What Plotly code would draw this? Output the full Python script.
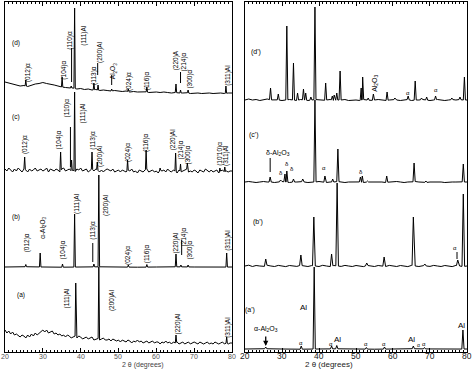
import numpy as np
import plotly.graph_objects as go

# ---------------- data (2-theta in degrees, stacked intensity in a.u.) ----------------
tick_vals = [20, 30, 40, 50, 60, 70, 80]
tick_text = ["20", "30", "40", "50", "60", "70", "80"]

# ---- left panel: (a)..(d) ----
d_base = [270, 269, 268.5, 267, 266, 266.5, 265.5, 267, 268, 268.5, 269.5, 268.5, 268, 267, 266, 265, 264.5, 264, 264, 263,
          263.5, 262.5, 263, 262, 262.5, 261.5, 262, 261.5, 261, 261.5, 261, 260.5, 261, 260, 260.5, 260, 260, 260.5, 259.5, 260,
          260, 259.5, 260, 259.5, 259, 259.5, 259, 259, 259.5, 258.5, 259, 259, 258.5, 259, 259, 258.5, 259, 259, 258.5, 259, 259]
d_pk_x = [25.5, 35.1, 37.5, 38.4, 43.5, 44.6, 48.2, 52.6, 57.5, 65.2, 66.4, 68.4, 78.4]
d_pk_y = [272, 275, 266, 344, 269, 267, 263, 263, 265, 268, 262, 262, 266]

c_base = [183, 181, 184, 182, 180, 183, 181, 184, 182, 180, 183, 182, 180, 183, 181, 182, 184, 181, 182, 183,
          181, 182, 184, 180, 183, 182, 181, 183, 182, 180, 183, 184, 181, 182, 183, 181, 182, 180, 183, 182,
          184, 181, 182, 183, 180, 182, 183, 181, 183, 182, 180, 182, 180, 182, 183, 182, 181, 183, 180, 181,
          182, 180, 182, 181, 180, 182, 181, 183, 180, 181, 179, 182, 181, 180, 182, 183, 180, 181, 182, 180,
          181, 179, 182, 181, 182, 180, 183, 181, 180, 182, 181, 179, 182, 180, 181, 182, 183, 180, 181, 180,
          182, 181, 179, 182, 181, 180, 183, 181, 180, 182, 180, 181, 182, 179, 181, 182, 180, 181, 180, 181, 181]
c_pk_x = [25.2, 34.7, 37.6, 38.4, 43.0, 44.4, 52.4, 57.3, 61.0, 65.1, 66.4, 68.2, 76.8, 78.1]
c_pk_y = [195, 200, 192, 260, 200, 190, 192, 202, 184, 199, 188, 189, 184, 185]

b_base = [85, 85.3, 85, 84.8, 85, 85.2, 85, 84.8, 85, 85.2, 85, 84.8, 85]
b_pk_x = [25.5, 29.3, 35.2, 38.4, 43.5, 44.8, 52.6, 57.5, 65.2, 66.5, 68.4, 78.6]
b_pk_y = [87.5, 99, 88, 138, 88, 177, 87, 87.5, 98, 87, 87, 99]

a_base = [22, 19, 21, 18, 20, 17, 18, 16, 15, 17, 16, 14, 17, 15, 18, 16, 19, 17, 19, 21,
          22, 20, 22, 19, 20, 21, 18, 19, 17, 18, 16, 17, 15, 17, 16, 14, 15, 16, 14, 16,
          15, 13, 14, 15, 13, 14, 15, 12, 13, 14, 12, 13, 14, 12, 12, 13, 11, 13, 12, 11,
          12, 10, 12, 11, 10, 12, 11, 9, 11, 10, 12, 10, 11, 9, 10, 11, 9, 10, 11, 9,
          10, 10, 8, 10, 9, 11, 9, 10, 8, 10, 9, 10, 8, 9, 10, 8, 9, 10, 8, 9,
          10, 9, 8, 10, 9, 8, 9, 10, 8, 9, 8, 10, 9, 8, 9, 10, 8, 9, 8, 9, 9]
a_pk_x = [38.7, 44.8, 65.2, 78.6]
a_pk_y = [69, 85, 17, 15]

# ---- right panel: (a')..(d') ----
dp_base = [252, 253, 252, 252.5, 251.5, 252, 253, 252, 252.5, 252, 251.5, 252, 252.5, 252, 251.5, 252.5, 252, 251.5, 252, 252.5,
           252, 251.5, 252, 252.5, 251.5, 252, 252, 252.5, 251.5, 252, 252, 251.5, 252.5, 252, 251.5, 252, 252.5, 252, 251.5, 252,
           252.5, 252, 251.5, 252, 252.5, 251.5, 252, 252, 252.5, 252, 251.5, 252, 252.5, 252, 251.5, 252, 252.5, 252, 252.5, 252, 252]
dp_pk_x = [26.9, 29.0, 31.3, 33.1, 34.2, 35.8, 36.4, 37.8, 38.9, 41.8, 43.6, 44.1, 44.8, 45.7, 51.4, 51.8, 53.3, 54.7,
           58.4, 60.5, 64.1, 66.0, 67.7, 69.1, 71.5, 75.9, 78.1, 79.3]
dp_pk_y = [264, 258, 326, 289, 259, 263, 259, 255, 345, 269, 256, 257, 259, 281, 264, 275, 254, 258,
           260, 254, 256, 271, 254, 255, 256, 254, 255, 275]

cp_base = [170, 170.5, 170, 169.5, 170, 170.5, 170, 170, 169.5, 170, 170.5, 170, 169.5, 170, 170, 170.5, 170, 169.5, 170, 170,
           170.5, 170, 169.5, 170, 170, 170.5, 170, 169.5, 170, 170, 170.5, 170, 169.5, 170, 170, 170, 170.5, 170, 169.5, 170,
           170, 170.5, 170, 169.5, 170, 170, 170.5, 170, 170, 169.5, 170, 170, 170.5, 170, 169.5, 170, 170, 170, 170.5, 170, 170]
cp_pk_x = [26.8, 29.6, 30.8, 31.3, 33.1, 35.6, 38.9, 41.6, 43.7, 45.1, 51.2, 51.7, 53.1, 58.3, 65.7, 68.9, 79.0]
cp_pk_y = [175, 172, 178, 181, 173, 173, 252, 176, 173, 203, 175, 176, 171, 176, 189, 171, 188]

bp_base = [86, 86.8, 85.5, 86.5, 86, 85.3, 86.7, 86, 85.5, 86.6, 86, 85.4, 86.5, 86, 85.6, 86.7, 86, 85.5, 86.4, 86,
           85.5, 86.7, 86, 85.4, 86.5, 86, 85.6, 86.6, 86, 85.5, 86.5, 86, 85.4, 86.6, 86, 85.5, 86.5, 86, 85.5, 86.6,
           86, 85.5, 86.5, 86, 85.4, 86.6, 86, 85.5, 86.5, 86, 85.6, 86.6, 86, 85.5, 86.5, 86, 85.4, 86.6, 86, 85.5, 86]
bp_pk_x = [25.6, 35.1, 38.6, 43.4, 44.9, 52.9, 57.6, 65.5, 68.6, 77.5, 79.0]
bp_pk_y = [93, 97, 135, 98, 169, 89, 95, 135, 88, 92, 158]

ap_base = [3, 3.3, 3, 2.8, 3, 3.2, 3, 2.8, 3, 3.3, 3, 2.8, 3]
ap_pk_x = [25.6, 35.2, 38.7, 43.4, 44.8, 52.8, 57.7, 65.5, 68.5, 78.9]
ap_pk_y = [5, 6, 85, 6, 6.5, 4.5, 5, 6, 4.5, 22]


# ---------------- helpers ----------------
def pattern(base, pk_x, pk_y, w):
    bx = np.linspace(20, 80, len(base))
    by = np.array(base, dtype=float)
    pts = []
    for x, y in zip(bx, by):
        if all(abs(x - p) > w for p in pk_x):
            pts.append((x, y))
    for p, h in zip(pk_x, pk_y):
        pts.append((p - w, float(np.interp(p - w, bx, by))))
        pts.append((p, h))
        pts.append((p + w, float(np.interp(p + w, bx, by))))
    pts.sort(key=lambda t: t[0])
    return [t[0] for t in pts], [t[1] for t in pts]


fig = go.Figure()
left = [(d_base, d_pk_x, d_pk_y, 0.18), (c_base, c_pk_x, c_pk_y, 0.18),
        (b_base, b_pk_x, b_pk_y, 0.2), (a_base, a_pk_x, a_pk_y, 0.18)]
right = [(dp_base, dp_pk_x, dp_pk_y, 0.28), (cp_base, cp_pk_x, cp_pk_y, 0.3),
         (bp_base, bp_pk_x, bp_pk_y, 0.35), (ap_base, ap_pk_x, ap_pk_y, 0.3)]
for base, px, py, w in left:
    x, y = pattern(base, px, py, w)
    fig.add_trace(go.Scatter(x=x, y=y, mode="lines", line=dict(color="black", width=1),
                             xaxis="x", yaxis="y", showlegend=False, hoverinfo="skip"))
for base, px, py, w in right:
    x, y = pattern(base, px, py, w)
    fig.add_trace(go.Scatter(x=x, y=y, mode="lines", line=dict(color="black", width=1),
                             xaxis="x2", yaxis="y2", showlegend=False, hoverinfo="skip"))

# ---------------- labels ----------------
A = "α"
left_vlabels = [  # (text, 2theta, level) rotated
    ("(012)" + A, 26.1, 279), ("(104)" + A, 35.5, 282), ("(110)" + A, 37.1, 312), ("(111)Al", 40.8, 317),
    ("(113)" + A, 43.5, 277), ("(200)Al", 45.1, 300), ("Al<sub>2</sub>O<sub>3</sub>", 48.6, 281),
    ("(024)" + A, 52.8, 270), ("(116)" + A, 57.6, 271), ("(220)A", 65.3, 292), ("(214)" + A, 67.2, 290),
    ("(300)" + A, 68.8, 273), ("(311)Al", 78.9, 277),
    ("(012)" + A, 25.3, 207), ("(104)" + A, 34.4, 212), ("(110)" + A, 36.5, 244), ("(111)Al", 40.5, 239),
    ("(113)" + A, 43.2, 212), ("(200)Al", 45.1, 196), ("(024)" + A, 52.5, 200), ("(116)" + A, 57.3, 209),
    ("(220)Al", 64.5, 213), ("(214)" + A, 66.4, 202), ("(300)" + A, 68.5, 197), ("(10'10)" + A, 76.8, 198),
    ("(311)Al", 78.4, 197),
    ("(012)" + A, 25.9, 109), (A + "-Al<sub>2</sub>O<sub>3</sub>", 30.0, 124), ("(104)" + A, 35.2, 102),
    ("(111)Al", 39.0, 149), ("(113)" + A, 43.2, 122), ("(200)Al", 46.7, 147), ("(024)" + A, 52.5, 97),
    ("(116)" + A, 57.6, 98), ("(220)Al", 65.1, 109), ("(214)" + A, 67.2, 115), ("(300)" + A, 68.8, 102),
    ("(311)Al", 78.9, 112),
    ("(111)Al", 36.5, 54), ("(200)Al", 48.3, 52), ("(220)Al", 65.6, 28), ("(311)Al", 78.9, 25),
]
left_hlabels = [("(d)", 22.9, 309), ("(c)", 22.9, 235), ("(b)", 22.9, 135), ("(a)", 24.3, 57)]
left_arrows = [(37.6, 304, 270), (44.5, 289, 277), (48.2, 277, 267), (66.4, 280, 269),
               (37.3, 225, 185), (43.2, 109, 90), (66.7, 112, 97)]

right_vlabels = [("Al<sub>2</sub>O<sub>3</sub>", 55.1, 269)]
right_hlabels = [
    ("(d')", 23.0, 300, 7), (A, 64.1, 259, 6), (A, 71.6, 262, 6),
    ("(c')", 22.4, 217, 7), ("δ-Al<sub>2</sub>O<sub>3</sub>", 28.9, 199, 7), ("δ", 29.7, 179, 6),
    ("δ", 31.4, 188, 6), ("δ", 32.7, 183, 6), (A, 41.4, 184, 6), ("δ", 51.4, 180, 6),
    ("(b')", 23.5, 130, 7), (A, 76.8, 104, 6),
    ("(a')", 21.4, 42, 7), ("Al", 35.7, 45, 8), (A + "-Al<sub>2</sub>O<sub>3</sub>", 25.8, 23, 7),
    (A, 35.1, 9, 6), (A, 43.2, 8, 6), ("Al", 45.1, 13, 8), (A, 52.7, 8, 6), (A, 57.6, 8, 6),
    ("Al", 65.1, 13, 8), (A, 66.8, 7, 5), (A, 68.4, 8, 6), ("Al", 78.6, 27, 8),
]
right_arrows = [(26.8, 194, 180), (77.3, 100, 93)]

ann = []
font = "Liberation Sans, Arial, sans-serif"
ink = "black"
for t, x, y in left_vlabels:
    ann.append(dict(text=t, x=x, y=y, xref="x", yref="y", showarrow=False, textangle=-90,
                    font=dict(size=6.5, family=font, color=ink)))
for t, x, y in left_hlabels:
    ann.append(dict(text=t, x=x, y=y, xref="x", yref="y", showarrow=False,
                    font=dict(size=6.5, family=font, color=ink)))
for t, x, y in right_vlabels:
    ann.append(dict(text=t, x=x, y=y, xref="x2", yref="y2", showarrow=False, textangle=-90,
                    font=dict(size=7, family=font, color=ink)))
for t, x, y, s in right_hlabels:
    ann.append(dict(text=t, x=x, y=y, xref="x2", yref="y2", showarrow=False,
                    font=dict(size=s, family=font, color=ink)))
# alpha-Al2O3 arrow in (a')
ann.append(dict(x=25.6, y=6, ax=25.6, ay=17, xref="x2", yref="y2", axref="x2", ayref="y2",
                text="", showarrow=True, arrowhead=2, arrowsize=0.8, arrowwidth=1.3, arrowcolor="black"))
# tick labels (placed tight under the axes, as in the reference)
for v, t in zip(tick_vals, tick_text):
    ann.append(dict(text=t, x=v, y=-0.0115, xref="x", yref="paper", yanchor="middle", borderpad=0,
                    showarrow=False, font=dict(size=7, family=font, color="#555")))
    ann.append(dict(text=t, x=v, y=-0.0125, xref="x2", yref="paper", yanchor="middle", borderpad=0,
                    showarrow=False, font=dict(size=8.5, family=font, color="#222")))
# axis titles
ann.append(dict(text="2 θ (degrees)", x=0.251, y=-0.038, xref="paper", yref="paper", showarrow=False,
                yanchor="middle", borderpad=0, font=dict(size=7, family=font, color="#444")))
ann.append(dict(text="2 θ (degrees)", x=0.755, y=-0.036, xref="paper", yref="paper", showarrow=False,
                yanchor="middle", borderpad=0, font=dict(size=8, family=font, color="#222")))

shapes = []
for x, y0, y1 in left_arrows:
    shapes.append(dict(type="line", x0=x, x1=x, y0=y0, y1=y1, xref="x", yref="y",
                       line=dict(color="black", width=1)))
for x, y0, y1 in right_arrows:
    shapes.append(dict(type="line", x0=x, x1=x, y0=y0, y1=y1, xref="x2", yref="y2",
                       line=dict(color="black", width=1)))

xcommon = dict(range=[20, 80], tickvals=tick_vals, showticklabels=False, ticks="inside", ticklen=4,
               tickcolor="black", showline=True, linecolor="black", linewidth=1, mirror="allticks",
               showgrid=False, zeroline=False,
               minor=dict(dtick=1, ticks="inside", ticklen=2, tickcolor="black"))
ycommon = dict(range=[0, 350], showticklabels=False, ticks="", showline=True, linecolor="black",
               linewidth=1, mirror=True, showgrid=False, zeroline=False, domain=[0, 1])

fig.update_layout(
    width=474, height=369, margin=dict(l=5, r=7, t=2, b=17),
    paper_bgcolor="white", plot_bgcolor="white", showlegend=False,
    xaxis=dict(domain=[0, 0.4913], anchor="y", **xcommon),
    xaxis2=dict(domain=[0.5195, 1], anchor="y2", **xcommon),
    yaxis=dict(anchor="x", **ycommon),
    yaxis2=dict(anchor="x2", **ycommon),
    annotations=ann, shapes=shapes,
)
fig.write_html("out.html", config={"displayModeBar": False},
               post_script="document.body.style.margin='0px';")
